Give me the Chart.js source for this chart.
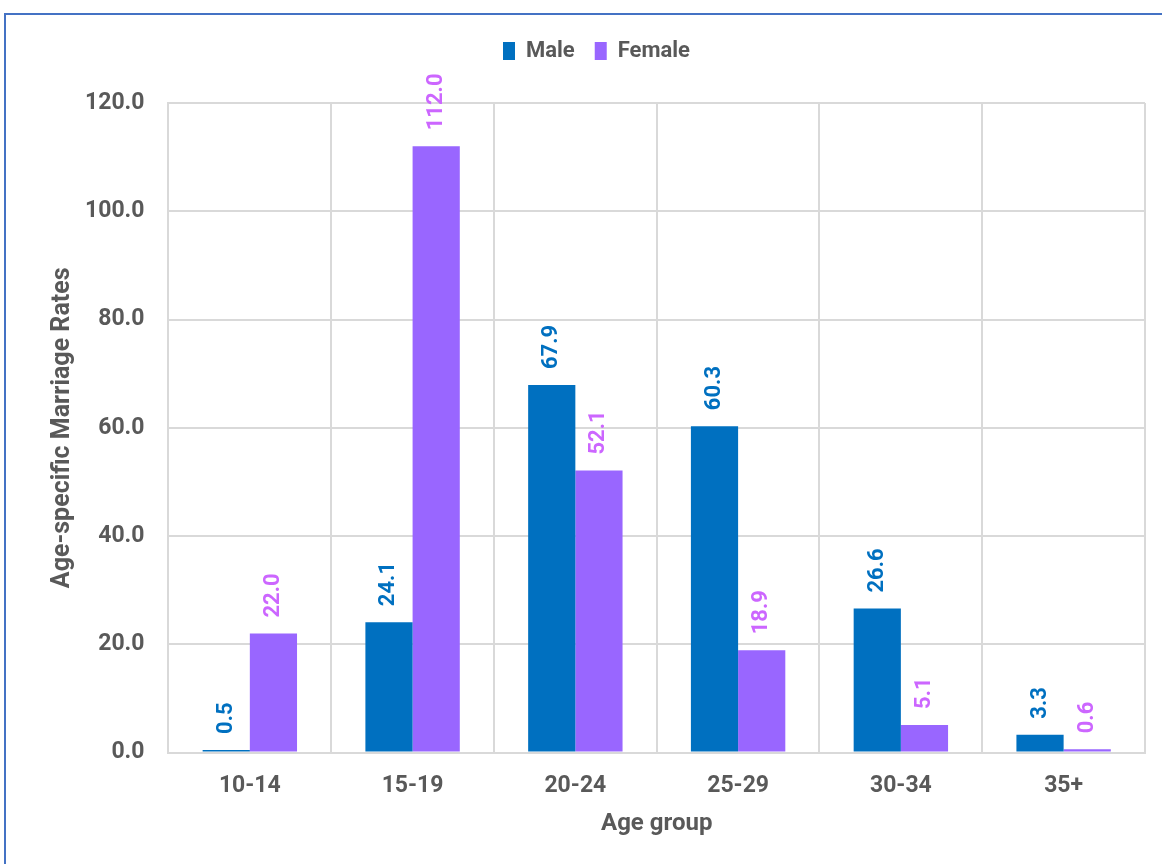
<!DOCTYPE html>
<html>
<head>
<meta charset="utf-8">
<script src="https://cdn.jsdelivr.net/npm/chart.js@4"></script>
<style>
  html, body { margin: 0; padding: 0; background: #fff; }
  #wrap { position: relative; width: 1162px; height: 864px; overflow: hidden; }
  #frame { position: absolute; left: 4px; top: 13px; width: 1200px; height: 900px;
           border: 2px solid #4472C4; box-sizing: border-box; pointer-events: none; }
  canvas { position: absolute; left: 0; top: 0; }
</style>
</head>
<body>
<div id="wrap">
  <canvas id="marriageChart" width="1162" height="864"></canvas>
  <div id="frame"></div>
</div>
<script>
// age groups and rates
const ageGroups = ['10-14', '15-19', '20-24', '25-29', '30-34', '35+'];
const maleRates = [0.5, 24.1, 67.9, 60.3, 26.6, 3.3];
const femaleRates = [22.0, 112.0, 52.1, 18.9, 5.1, 0.6];

const maleColor = '#0070C0';
const femaleColor = '#9966FF';
const femaleLabelColor = '#CC66FF';
const textGray = '#595959';
const fontFamily = 'Roboto, "DejaVu Sans", sans-serif';

// draws the rotated value labels above each bar
const barLabels = {
    id: 'barLabels',
    afterDatasetsDraw(chart) {
        const ctx = chart.ctx;
        chart.data.datasets.forEach((ds, i) => {
            const meta = chart.getDatasetMeta(i);
            meta.data.forEach((bar, j) => {
                ctx.save();
                ctx.translate(bar.x, bar.y - 16);
                ctx.rotate(-Math.PI / 2);
                ctx.font = 'bold 22px ' + fontFamily;
                ctx.fillStyle = i === 0 ? maleColor : femaleLabelColor;
                ctx.textAlign = 'left';
                ctx.textBaseline = 'middle';
                ctx.fillText(ds.data[j].toFixed(1), 0, 0);
                ctx.restore();
            });
        });
    }
};

// extra room between legend and plot
const legendGap = {
    id: 'legendGap',
    beforeInit(chart) {
        const fit = chart.legend.fit;
        chart.legend.fit = function () {
            fit.bind(chart.legend)();
            this.height += 31;
        };
    }
};

const ctx = document.getElementById('marriageChart').getContext('2d');
new Chart(ctx, {
    type: 'bar',
    data: {
        labels: ageGroups,
        datasets: [
            { label: 'Male', data: maleRates, backgroundColor: maleColor },
            { label: 'Female', data: femaleRates, backgroundColor: femaleColor }
        ]
    },
    options: {
        responsive: false,
        animation: false,
        layout: { padding: { left: 48, right: 17, top: 20, bottom: 26 } },
        datasets: {
            bar: { categoryPercentage: 0.58, barPercentage: 1.0 }
        },
        plugins: {
            legend: {
                position: 'top',
                labels: {
                    boxWidth: 12,
                    boxHeight: 18,
                    color: textGray,
                    font: { family: fontFamily, size: 22, weight: 'bold' },
                    padding: 20
                }
            },
            tooltip: { enabled: false }
        },
        scales: {
            x: {
                grid: { color: '#D9D9D9', lineWidth: 2, drawTicks: true, tickLength: 14, tickColor: 'rgba(0,0,0,0)' },
                border: { color: '#D9D9D9', width: 2 },
                ticks: {
                    color: textGray,
                    padding: 6,
                    font: { family: fontFamily, size: 23, weight: 'bold' }
                },
                title: {
                    display: true,
                    text: 'Age group',
                    color: textGray,
                    font: { family: fontFamily, size: 24, weight: 'bold' },
                    padding: { top: 3, bottom: 0 }
                }
            },
            y: {
                min: 0,
                max: 120,
                grid: { color: '#D9D9D9', lineWidth: 2, drawTicks: true, tickLength: 18, tickColor: 'rgba(0,0,0,0)' },
                border: { color: '#D9D9D9', width: 2 },
                ticks: {
                    stepSize: 20,
                    color: textGray,
                    padding: 6,
                    font: { family: fontFamily, size: 23, weight: 'bold' },
                    callback: v => v.toFixed(1)
                },
                title: {
                    display: true,
                    text: 'Age-specific Marriage Rates',
                    color: textGray,
                    font: { family: fontFamily, size: 25, weight: 'bold' },
                    padding: { top: 0, bottom: 1 }
                }
            }
        }
    },
    plugins: [barLabels, legendGap]
});
</script>
</body>
</html>
